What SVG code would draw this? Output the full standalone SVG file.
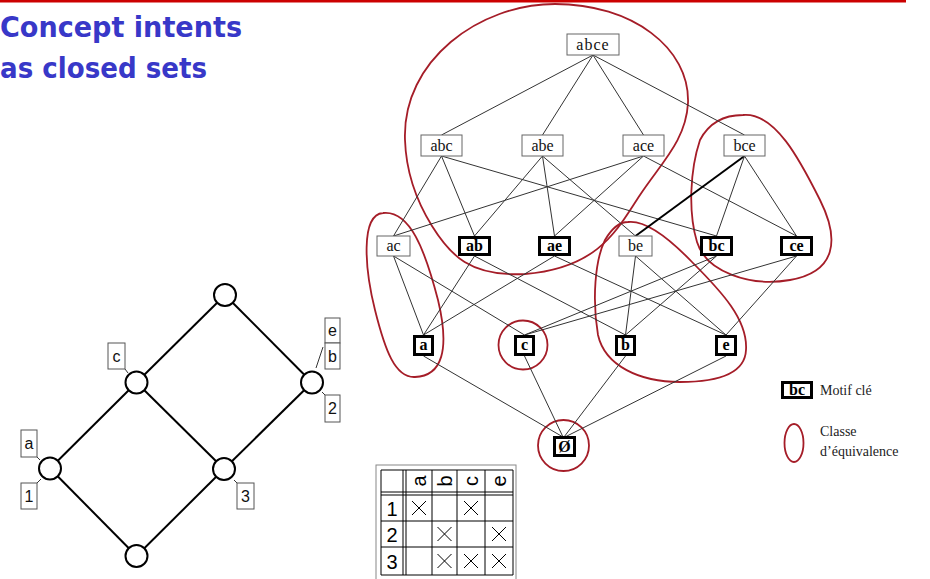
<svg xmlns="http://www.w3.org/2000/svg" width="930" height="579" viewBox="0 0 930 579">
  <style>
    .title { font-family: "DejaVu Sans", "Liberation Sans", sans-serif; font-weight: bold; font-size: 29px; fill: #3838c8; }
    .edge { stroke: #333; stroke-width: 1; fill: none; }
    .thin { fill: #fff; stroke: #666; stroke-width: 1; }
    .key { fill: #fff; stroke: #000; stroke-width: 3; }
    .lbl { font-family: "Liberation Serif", "Times New Roman", serif; font-size: 16px; fill: #111; text-anchor: middle; }
    .lblb { font-family: "Liberation Serif", "Times New Roman", serif; font-size: 16px; font-weight: bold; fill: #000; text-anchor: middle; }
    .cls { fill: none; stroke: #a51d28; stroke-width: 1.8; }
    .leg { font-family: "Liberation Serif", "Times New Roman", serif; font-size: 14px; fill: #222; }
    .hl { stroke: #000; stroke-width: 2; fill: none; }
    .hn { fill: #fff; stroke: #000; stroke-width: 2; }
    .tag { fill: #fff; stroke: #555; stroke-width: 1; }
    .tagt { font-family: "Liberation Sans", Arial, sans-serif; font-size: 16px; fill: #111; text-anchor: middle; }
    .lead { stroke: #333; stroke-width: 1; }
    .grid { stroke: #000; stroke-width: 1; fill: none; }
    .cell { font-family: "Liberation Sans", Arial, sans-serif; font-size: 20px; fill: #000; text-anchor: middle; }
    .x { stroke: #000; stroke-width: 1; }
  </style>

  <!-- header rule and title -->
  <line x1="0" y1="1" x2="906" y2="1" stroke="#cc0000" stroke-width="3"/>
  <text class="title" x="0" y="37" textLength="242" lengthAdjust="spacingAndGlyphs">Concept intents</text>
  <text class="title" x="0" y="78" textLength="207" lengthAdjust="spacingAndGlyphs">as closed sets</text>

  <!-- equivalence classes -->
  <g id="classes">
    <path class="cls" d="M405,140 C402,60 480,4 555,4 C632,4 690,48 688,103 C686,140 662,162 640,195 C618,228 600,268 525,274 C470,277 450,255 432,226 C414,197 406,170 405,140 Z"/>
    <path class="cls" d="M743,115 C775,112 800,160 820,200 C840,240 836,272 790,280 C750,287 706,272 697,242 C688,212 690,170 700,140 C710,121 726,115 743,115 Z"/>
    <path class="cls" d="M383,213 C410,210 425,250 438,300 C450,350 442,376 415,377 C395,378 385,350 375,310 C365,270 360,215 383,213 Z"/>
    <circle class="cls" cx="523" cy="345" r="24.5"/>
    <path class="cls" d="M628,222 C645,220 667,236 692,262 C722,292 748,320 746,350 C745,373 720,382 680,382 C640,382 605,366 598,335 C592,300 595,260 605,240 C612,228 620,222 628,222 Z"/>
    <circle class="cls" cx="563.5" cy="445.5" r="25.5"/>
  </g>

  <!-- lattice connectors -->
  <g id="connectors">
    <line class="edge" x1="593" y1="55" x2="441.5" y2="135"/>
    <line class="edge" x1="593" y1="55" x2="542.5" y2="135"/>
    <line class="edge" x1="593" y1="55" x2="643.5" y2="135"/>
    <line class="edge" x1="593" y1="55" x2="744.5" y2="135"/>

    <line class="edge" x1="441.5" y1="156" x2="393.5" y2="236"/>
    <line class="edge" x1="441.5" y1="156" x2="474.5" y2="236"/>
    <line class="edge" x1="441.5" y1="156" x2="716.5" y2="236"/>
    <line class="edge" x1="542.5" y1="156" x2="474.5" y2="236"/>
    <line class="edge" x1="542.5" y1="156" x2="554.5" y2="236"/>
    <line class="edge" x1="542.5" y1="156" x2="635.5" y2="236"/>
    <line class="edge" x1="643.5" y1="156" x2="393.5" y2="236"/>
    <line class="edge" x1="643.5" y1="156" x2="554.5" y2="236"/>
    <line class="edge" x1="643.5" y1="156" x2="796.5" y2="236"/>
    <line x1="744.5" y1="156" x2="635.5" y2="236" stroke="#000" stroke-width="2"/>
    <line class="edge" x1="744.5" y1="156" x2="716.5" y2="236"/>
    <line class="edge" x1="744.5" y1="156" x2="796.5" y2="236"/>

    <line class="edge" x1="393.5" y1="256" x2="423.5" y2="335"/>
    <line class="edge" x1="393.5" y1="256" x2="524.5" y2="335"/>
    <line class="edge" x1="474.5" y1="256" x2="423.5" y2="335"/>
    <line class="edge" x1="474.5" y1="256" x2="625.5" y2="335"/>
    <line class="edge" x1="554.5" y1="256" x2="423.5" y2="335"/>
    <line class="edge" x1="554.5" y1="256" x2="726" y2="335"/>
    <line class="edge" x1="635.5" y1="256" x2="625.5" y2="335"/>
    <line class="edge" x1="635.5" y1="256" x2="726" y2="335"/>
    <line class="edge" x1="716.5" y1="256" x2="625.5" y2="335"/>
    <line class="edge" x1="716.5" y1="256" x2="524.5" y2="335"/>
    <line class="edge" x1="796.5" y1="256" x2="524.5" y2="335"/>
    <line class="edge" x1="796.5" y1="256" x2="726" y2="335"/>

    <line class="edge" x1="423.5" y1="356" x2="563" y2="437"/>
    <line class="edge" x1="524.5" y1="356" x2="563" y2="437"/>
    <line class="edge" x1="625.5" y1="356" x2="564" y2="437"/>
    <line class="edge" x1="726" y1="356" x2="565" y2="437"/>
  </g>

  <!-- lattice nodes -->
  <g id="n-abce"><rect class="thin" x="567" y="34" width="52" height="21"/><text class="lbl" x="593" y="50" letter-spacing="1">abce</text></g>
  <g id="n-abc"><rect class="thin" x="421" y="135" width="41" height="21"/><text class="lbl" x="441.5" y="151">abc</text></g>
  <g id="n-abe"><rect class="thin" x="522" y="135" width="41" height="21"/><text class="lbl" x="542.5" y="151">abe</text></g>
  <g id="n-ace"><rect class="thin" x="623" y="135" width="41" height="21"/><text class="lbl" x="643.5" y="151">ace</text></g>
  <g id="n-bce"><rect class="thin" x="724" y="135" width="41" height="21"/><text class="lbl" x="744.5" y="151">bce</text></g>

  <g id="n-ac"><rect class="thin" x="377" y="236" width="33" height="20"/><text class="lbl" x="393.5" y="251">ac</text></g>
  <g id="n-ab"><rect class="key" x="459.5" y="237.5" width="30" height="17"/><text class="lblb" x="474.5" y="251">ab</text></g>
  <g id="n-ae"><rect class="key" x="539.5" y="237.5" width="30" height="17"/><text class="lblb" x="554.5" y="251">ae</text></g>
  <g id="n-be"><rect class="thin" x="619" y="236" width="33" height="20"/><text class="lbl" x="635.5" y="251">be</text></g>
  <g id="n-bc"><rect class="key" x="701.5" y="237.5" width="30" height="17"/><text class="lblb" x="716.5" y="251">bc</text></g>
  <g id="n-ce"><rect class="key" x="781.5" y="237.5" width="30" height="17"/><text class="lblb" x="796.5" y="251">ce</text></g>

  <g id="n-a"><rect class="key" x="414.5" y="336.5" width="18" height="18"/><text class="lblb" x="423.5" y="350">a</text></g>
  <g id="n-c"><rect class="key" x="515.5" y="336.5" width="18" height="18"/><text class="lblb" x="524.5" y="350">c</text></g>
  <g id="n-b"><rect class="key" x="616.5" y="336.5" width="18" height="18"/><text class="lblb" x="625.5" y="350">b</text></g>
  <g id="n-e"><rect class="key" x="716.5" y="336.5" width="19" height="18"/><text class="lblb" x="726" y="350">e</text></g>
  <g id="n-empty"><rect class="key" x="554.5" y="437.5" width="20" height="18"/><text class="lblb" x="564.5" y="452">Ø</text></g>

  <!-- legend -->
  <g id="legend">
    <rect class="key" x="782.5" y="382.5" width="29" height="15"/>
    <text class="lblb" x="797" y="395" font-size="14">bc</text>
    <text class="leg" x="820" y="395">Motif clé</text>
    <ellipse class="cls" cx="794" cy="443" rx="9.5" ry="19"/>
    <text class="leg" x="820" y="436">Classe</text>
    <text class="leg" x="820" y="456">d’équivalence</text>
  </g>

  <!-- small concept lattice -->
  <g id="small-lattice-edges">
    <line class="hl" x1="225" y1="295" x2="136.5" y2="382.5"/>
    <line class="hl" x1="225" y1="295" x2="312" y2="382.5"/>
    <line class="hl" x1="136.5" y1="382.5" x2="50" y2="468.5"/>
    <line class="hl" x1="136.5" y1="382.5" x2="224" y2="469"/>
    <line class="hl" x1="312" y1="382.5" x2="224" y2="469"/>
    <line class="hl" x1="50" y1="468.5" x2="136.5" y2="556"/>
    <line class="hl" x1="224" y1="469" x2="136.5" y2="556"/>
  </g>
  <g id="s-top"><circle class="hn" cx="225" cy="295" r="11"/></g>
  <g id="s-c">
    <circle class="hn" cx="136.5" cy="382.5" r="11"/>
    <line class="lead" x1="125" y1="369" x2="128" y2="373"/>
    <rect class="tag" x="108" y="343" width="17" height="26"/><text class="tagt" x="116.5" y="362">c</text>
  </g>
  <g id="s-2">
    <circle class="hn" cx="312" cy="382.5" r="11"/>
    <line class="lead" x1="323" y1="347" x2="316" y2="368"/>
    <rect class="tag" x="325" y="318" width="15" height="25"/><text class="tagt" x="332.5" y="336">e</text>
    <rect class="tag" x="325" y="343" width="15" height="26"/><text class="tagt" x="332.5" y="362">b</text>
    <line class="lead" x1="325" y1="395" x2="322" y2="392"/>
    <rect class="tag" x="325" y="395" width="15" height="27"/><text class="tagt" x="332.5" y="414">2</text>
  </g>
  <g id="s-1">
    <circle class="hn" cx="50" cy="468.5" r="11"/>
    <line class="lead" x1="37" y1="457" x2="40" y2="460"/>
    <rect class="tag" x="21" y="430" width="16" height="27"/><text class="tagt" x="29" y="449">a</text>
    <line class="lead" x1="37" y1="483" x2="41" y2="479"/>
    <rect class="tag" x="21" y="483" width="16" height="26"/><text class="tagt" x="29" y="502">1</text>
  </g>
  <g id="s-3">
    <circle class="hn" cx="224" cy="469" r="11"/>
    <line class="lead" x1="237" y1="483" x2="234" y2="480"/>
    <rect class="tag" x="237" y="483" width="17" height="26"/><text class="tagt" x="245.5" y="502">3</text>
  </g>
  <g id="s-bottom"><circle class="hn" cx="136.5" cy="556" r="11"/></g>

  <!-- context table -->
  <g id="context-table">
    <rect x="376" y="465" width="140" height="120" fill="#fff" stroke="#888" stroke-width="1"/>
    <path class="grid" d="M381,470 H513 V575 H381 Z M403,470 V575 M406,470 V575 M432,470 V575 M457,470 V575 M485,470 V575 M381,492 H513 M381,495 H513 M381,521 H513 M381,547 H513"/>
    <text class="cell" transform="translate(426,481) rotate(-90)" text-anchor="middle">a</text>
    <text class="cell" transform="translate(451.5,481) rotate(-90)" text-anchor="middle">b</text>
    <text class="cell" transform="translate(478,481) rotate(-90)" text-anchor="middle">c</text>
    <text class="cell" transform="translate(506,481) rotate(-90)" text-anchor="middle">e</text>
    <text class="cell" x="392" y="516">1</text>
    <text class="cell" x="392" y="542">2</text>
    <text class="cell" x="392" y="569">3</text>
    <g class="x">
      <path d="M412,501 L426,515 M426,501 L412,515"/>
      <path d="M464,501 L478,515 M478,501 L464,515"/>
      <path d="M437.5,527 L451.5,541 M451.5,527 L437.5,541"/>
      <path d="M492,527 L506,541 M506,527 L492,541"/>
      <path d="M437.5,554 L451.5,568 M451.5,554 L437.5,568"/>
      <path d="M464,554 L478,568 M478,554 L464,568"/>
      <path d="M492,554 L506,568 M506,554 L492,568"/>
    </g>
  </g>
</svg>
